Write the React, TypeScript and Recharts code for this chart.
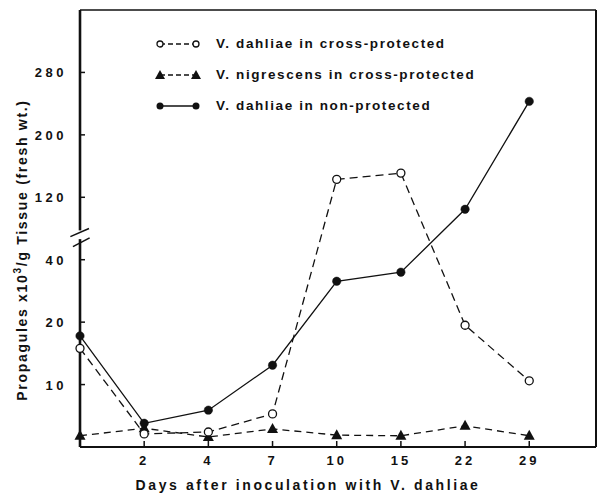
import React from 'react';
import { LineChart, Line, XAxis, YAxis, ReferenceLine } from 'recharts';

// sampling days (equally spaced on the printed axis)
const days = [0, 2, 4, 7, 10, 15, 22, 29];

// propagules x10^3 / g tissue
const dahliaeCross = [15.8, 2.1, 2.4, 5.3, 143, 151, 19.5, 10.6];
const nigrescensCross = [1.8, 3.0, 1.6, 2.9, 1.9, 1.8, 3.4, 1.8];
const dahliaeNon = [17.8, 3.8, 5.9, 13.1, 33.1, 36, 104.6, 242.9];

// broken y axis: each knot gets the same height on the page
const yKnots = [0, 10, 20, 40, 120, 200, 280];
const yTickValues = [10, 20, 40, 120, 200, 280];

const legendItems = [
  { label: 'V. dahliae in cross-protected', kind: 'open' },
  { label: 'V. nigrescens in cross-protected', kind: 'tri' },
  { label: 'V. dahliae in non-protected', kind: 'filled' },
];

const INK = '#111';
const FONT = '"Liberation Sans", Arial, sans-serif';

function toPos(v: number): number {
  for (let i = 0; i < yKnots.length - 1; i++) {
    if (v <= yKnots[i + 1]) return i + (v - yKnots[i]) / (yKnots[i + 1] - yKnots[i]);
  }
  return yKnots.length - 1;
}

const rows = days.map((d, i) => ({
  idx: i,
  day: d,
  open: toPos(dahliaeCross[i]),
  tri: toPos(nigrescensCross[i]),
  filled: toPos(dahliaeNon[i]),
}));

const XTick = ({ x, y, payload }: any) => (
  <g>
    <line x1={x} x2={x} y1={y} y2={y - 6} stroke={INK} strokeWidth={1.5} />
    <text x={x} y={y + 18} textAnchor="middle" fontFamily={FONT} fontWeight="bold" fontSize={13} letterSpacing={3} fill={INK}>
      {days[payload.value]}
    </text>
  </g>
);

const YTick = ({ x, y, payload }: any) => {
  const k = yTickValues.find((t) => Math.abs(toPos(t) - payload.value) < 1e-6);
  return (
    <g>
      <line x1={x} x2={x + 5} y1={y} y2={y} stroke={INK} strokeWidth={1.5} />
      <text x={x - 13} y={y + 5} textAnchor="end" fontFamily={FONT} fontWeight="bold" fontSize={13} letterSpacing={3.5} fill={INK}>
        {k}
      </text>
    </g>
  );
};

const Triangle = ({ cx, cy, index }: any) => {
  if (cx == null || cy == null) return null;
  return <polygon key={index} points={`${cx},${cy - 6} ${cx - 5.5},${cy + 4} ${cx + 5.5},${cy + 4}`} fill={INK} />;
};

const YLabel = () => (
  <text
    transform="translate(27,250) rotate(-90)"
    textAnchor="middle"
    fontFamily={FONT}
    fontWeight="bold"
    fontSize={14}
    letterSpacing={1.7}
    fill={INK}
  >
    Propagules x10<tspan dy={-6} fontSize={10}>3</tspan>
    <tspan dy={6}>/g  Tissue (fresh wt.)</tspan>
  </text>
);

function LegendMark({ kind }: { kind: string }) {
  return (
    <svg width={46} height={12} style={{ display: 'block' }}>
      <line x1={5} x2={41} y1={6} y2={6} stroke={INK} strokeWidth={1.4} strokeDasharray={kind === 'filled' ? undefined : '5 3'} />
      {kind === 'open' && (
        <>
          <circle cx={5} cy={6} r={3} fill="#fff" stroke={INK} strokeWidth={1.3} />
          <circle cx={41} cy={6} r={3} fill="#fff" stroke={INK} strokeWidth={1.3} />
        </>
      )}
      {kind === 'tri' && (
        <>
          <polygon points="5,1 0,10 10,10" fill={INK} />
          <polygon points="41,1 36,10 46,10" fill={INK} />
        </>
      )}
      {kind === 'filled' && (
        <>
          <circle cx={5} cy={6} r={3.5} fill={INK} />
          <circle cx={41} cy={6} r={3.5} fill={INK} />
        </>
      )}
    </svg>
  );
}

export default function App() {
  return (
    <div style={{ position: 'absolute', left: 0, top: 0, width: 603, height: 494, background: '#fff' }}>
      <LineChart width={603} height={494} data={rows} margin={{ top: 9, right: 6, bottom: 46, left: 0 }}>
        <XAxis
          dataKey="idx"
          type="number"
          domain={[0, 8.04]}
          ticks={[1, 2, 3, 4, 5, 6, 7]}
          height={1}
          tickSize={0}
          tickMargin={0}
          tick={<XTick />}
          axisLine={{ stroke: INK, strokeWidth: 2.2 }}
          tickLine={false}
        />
        <XAxis xAxisId="top" orientation="top" type="number" domain={[0, 1]} height={1} tick={false} tickLine={false} axisLine={{ stroke: INK, strokeWidth: 1.6 }} />
        <YAxis
          type="number"
          domain={[0, 7]}
          ticks={yTickValues.map(toPos)}
          width={80}
          tickSize={0}
          tickMargin={0}
          tick={<YTick />}
          axisLine={false}
          tickLine={false}
          label={<YLabel />}
        />
        <YAxis yAxisId="right" orientation="right" type="number" domain={[0, 1]} width={1} tick={false} tickLine={false} axisLine={{ stroke: INK, strokeWidth: 2 }} />

        {/* left axis drawn in two pieces around the break */}
        <ReferenceLine segment={[{ x: 0, y: 0 }, { x: 0, y: 3.33 }]} stroke={INK} strokeWidth={2.6} ifOverflow="visible" />
        <ReferenceLine segment={[{ x: 0, y: 3.47 }, { x: 0, y: 7 }]} stroke={INK} strokeWidth={2.6} ifOverflow="visible" />
        <ReferenceLine segment={[{ x: -0.15, y: 3.37 }, { x: 0.14, y: 3.5 }]} stroke={INK} strokeWidth={1.6} ifOverflow="visible" />
        <ReferenceLine segment={[{ x: -0.11, y: 3.21 }, { x: 0.15, y: 3.35 }]} stroke={INK} strokeWidth={1.6} ifOverflow="visible" />

        <Line
          dataKey="tri"
          stroke={INK}
          strokeWidth={1.3}
          strokeDasharray="7 5"
          dot={<Triangle />}
          activeDot={false}
          isAnimationActive={false}
        />
        <Line
          dataKey="open"
          stroke={INK}
          strokeWidth={1.3}
          strokeDasharray="8 5"
          dot={{ r: 4, fill: '#fff', stroke: INK, strokeWidth: 1.3, strokeDasharray: '0' }}
          activeDot={false}
          isAnimationActive={false}
        />
        <Line
          dataKey="filled"
          stroke={INK}
          strokeWidth={1.3}
          dot={{ r: 4.2, fill: INK, stroke: INK, strokeWidth: 0.5 }}
          activeDot={false}
          isAnimationActive={false}
        />
        <text x={308} y={490} textAnchor="middle" fontFamily={FONT} fontWeight="bold" fontSize={14} letterSpacing={2.6} fill={INK}>
          Days after inoculation with V. dahliae
        </text>
      </LineChart>

      <div style={{ position: 'absolute', left: 155, top: 28, fontFamily: FONT, fontWeight: 'bold', fontSize: 13.5, letterSpacing: 1.6, color: INK }}>
        {legendItems.map((it) => (
          <div key={it.kind} style={{ display: 'flex', alignItems: 'center', height: 31 }}>
            <LegendMark kind={it.kind} />
            <span style={{ marginLeft: 15 }}>{it.label}</span>
          </div>
        ))}
      </div>
    </div>
  );
}
